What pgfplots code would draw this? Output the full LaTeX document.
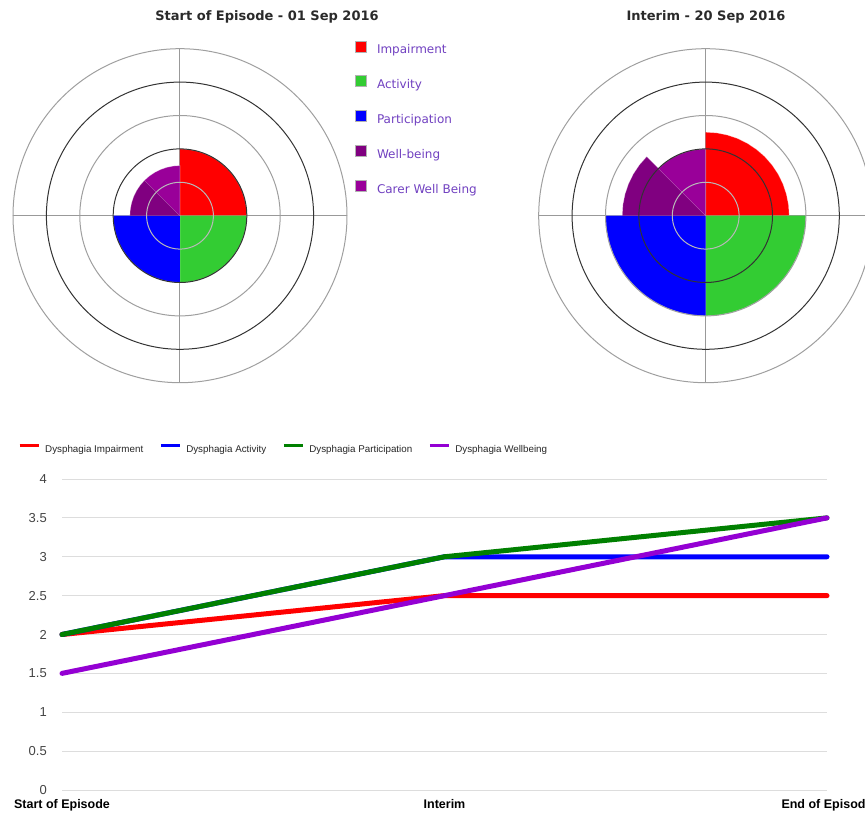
\documentclass[border=0pt]{standalone}
\usepackage{fontspec}
\usepackage{pgfplots}
\usepackage{pgfplotstable}
\pgfplotsset{compat=1.18}
\usepgfplotslibrary{polar}
\newfontfamily\dv{DejaVu Sans}
\newfontfamily\ls{Liberation Sans}
\definecolor{cRed}{HTML}{FF0000}
\definecolor{cGreen}{HTML}{33CC33}
\definecolor{cBlue}{HTML}{0000FF}
\definecolor{cWell}{HTML}{800080}
\definecolor{cCarer}{HTML}{990099}
\definecolor{legtext}{HTML}{7040C0}
\definecolor{titlec}{HTML}{2A2A2A}
\definecolor{lRed}{HTML}{FF0000}
\definecolor{lBlue}{HTML}{0000FF}
\definecolor{lGreen}{HTML}{008000}
\definecolor{lPurple}{HTML}{9400D3}
\definecolor{gridc}{HTML}{DDDDDD}
\definecolor{tickc}{HTML}{444444}

\pgfplotstableread{
x imp act par wel
0 2   2 2   1.5
1 2.5 3 3   2.5
2 2.5 3 3.5 3.5
}\linedata

\pgfplotsset{
  pbase/.style={
    scale only axis, width=334pt, height=334pt,
    xmin=0, xmax=360, ymin=0, ymax=5,
    xticklabels={}, yticklabels={},
    major tick length=0pt, minor tick length=0pt,
    axis line style={draw=none},
  },
  rings/.style={
    xtick=\empty, ytick={3,5}, ymajorgrids,
    grid style={draw=gray!75, line width=1pt},
    minor ytick={1}, yminorgrids,
    minor grid style={draw=gray!55, line width=1pt},
    extra y ticks={2,4}, extra y tick labels={},
    extra y tick style={grid style={draw=black!80, line width=1pt}},
  },
  sector/.style={fill=#1, draw=white, draw opacity=0.35, line width=0.6pt},
  pleg/.style={
    legend style={at={(axis description cs:1.024,1.025)}, anchor=north west,
      draw=none, fill=none, inner sep=0pt,
      row sep=18.5pt, column sep=10pt,
      nodes={inner sep=0pt, text height=9pt, text depth=3pt,
        font=\dv\fontsize{12}{12}\selectfont, text=legtext}},
    legend cell align=left,
    legend image code/.code={\draw[##1, draw=gray!60, draw opacity=1, line width=0.8pt] (0pt,-1pt) rectangle (11pt,10pt);},
  },
}

\begin{document}
\begin{tikzpicture}
\path[use as bounding box] (0pt,0pt) rectangle (865pt,812pt);

% ---------- Polar chart 1 ----------
\begin{polaraxis}[pbase, pleg, at={(180pt,596.3pt)}, anchor=origin,
  xtick={0,90,180,270}, ytick=\empty, xmajorgrids,
  grid style={draw=gray!80, line width=1pt}]
\addplot[sector=cRed] coordinates {(0,0) (0,2) (7.5,2) (15,2) (22.5,2) (30,2) (37.5,2) (45,2) (52.5,2) (60,2) (67.5,2) (75,2) (82.5,2) (90,2)};
\addlegendentry{Impairment}
\addplot[sector=cGreen] coordinates {(0,0) (270,2) (277.5,2) (285,2) (292.5,2) (300,2) (307.5,2) (315,2) (322.5,2) (330,2) (337.5,2) (345,2) (352.5,2) (360,2)};
\addlegendentry{Activity}
\addplot[sector=cBlue] coordinates {(0,0) (180,2) (187.5,2) (195,2) (202.5,2) (210,2) (217.5,2) (225,2) (232.5,2) (240,2) (247.5,2) (255,2) (262.5,2) (270,2)};
\addlegendentry{Participation}
\addplot[sector=cWell] coordinates {(0,0) (135,1.5) (142.5,1.5) (150,1.5) (157.5,1.5) (165,1.5) (172.5,1.5) (180,1.5)};
\addlegendentry{Well-being}
\addplot[sector=cCarer] coordinates {(0,0) (90,1.5) (97.5,1.5) (105,1.5) (112.5,1.5) (120,1.5) (127.5,1.5) (135,1.5)};
\addlegendentry{Carer Well Being}
\end{polaraxis}
\begin{polaraxis}[pbase, rings, at={(180pt,596.3pt)}, anchor=origin]
\end{polaraxis}

% ---------- Polar chart 2 ----------
\begin{polaraxis}[pbase, at={(705.7pt,596.3pt)}, anchor=origin,
  xtick={0,90,180,270}, ytick=\empty, xmajorgrids,
  grid style={draw=gray!80, line width=1pt}]
\addplot[sector=cRed] coordinates {(0,0) (0,2.5) (7.5,2.5) (15,2.5) (22.5,2.5) (30,2.5) (37.5,2.5) (45,2.5) (52.5,2.5) (60,2.5) (67.5,2.5) (75,2.5) (82.5,2.5) (90,2.5)};
\addplot[sector=cGreen] coordinates {(0,0) (270,3) (277.5,3) (285,3) (292.5,3) (300,3) (307.5,3) (315,3) (322.5,3) (330,3) (337.5,3) (345,3) (352.5,3) (360,3)};
\addplot[sector=cBlue] coordinates {(0,0) (180,3) (187.5,3) (195,3) (202.5,3) (210,3) (217.5,3) (225,3) (232.5,3) (240,3) (247.5,3) (255,3) (262.5,3) (270,3)};
\addplot[sector=cWell] coordinates {(0,0) (135,2.5) (142.5,2.5) (150,2.5) (157.5,2.5) (165,2.5) (172.5,2.5) (180,2.5)};
\addplot[sector=cCarer] coordinates {(0,0) (90,2) (97.5,2) (105,2) (112.5,2) (120,2) (127.5,2) (135,2)};
\end{polaraxis}
\begin{polaraxis}[pbase, rings, at={(705.7pt,596.3pt)}, anchor=origin]
\end{polaraxis}

\node[font=\dv\bfseries\fontsize{13}{13}\selectfont, text=titlec] at (267pt,795pt) {Start of Episode - 01 Sep 2016};
\node[font=\dv\bfseries\fontsize{13}{13}\selectfont, text=titlec] at (706pt,795pt) {Interim - 20 Sep 2016};

% ---------- Line chart ----------
\begin{axis}[at={(62pt,22pt)}, anchor=south west, scale only axis,
  width=765pt, height=311pt,
  xmin=0, xmax=2, ymin=0, ymax=4, clip=false,
  xtick={0,1,2}, xticklabels={Start of Episode,Interim,End of Episode},
  ytick={0,0.5,1,1.5,2,2.5,3,3.5,4},
  ymajorgrids, grid style={draw=gridc, line width=1pt},
  axis line style={draw=none}, major tick length=0pt,
  /pgf/number format/assume math mode=true,
  yticklabel style={font=\ls\fontsize{13}{13}\selectfont, text=tickc, inner sep=0pt, xshift=-15pt},
  xticklabel style={font=\ls\bfseries\fontsize{12.5}{12.5}\selectfont, text=black, inner sep=0pt, anchor=north, yshift=-9pt},
  legend columns=4,
  legend style={at={(axis description cs:-0.0575,1.0966)}, anchor=west,
    draw=none, fill=none, inner sep=0pt,
    nodes={inner sep=0pt, font=\ls\fontsize{9.8}{10}\selectfont, text=black!85},
    /tikz/every odd column/.append style={column sep=5pt},
    /tikz/every even column/.append style={column sep=16pt}},
  legend image code/.code={\draw[#1, line width=3pt, line cap=butt] (0pt,3.6pt) -- (19pt,3.6pt);},
]
\addplot[lRed, line width=5pt, line cap=round, line join=round] table[x=x, y=imp] {\linedata};
\addlegendentry{Dysphagia Impairment}
\addplot[lBlue, line width=5pt, line cap=round, line join=round] table[x=x, y=act] {\linedata};
\addlegendentry{Dysphagia Activity}
\addplot[lGreen, line width=5pt, line cap=round, line join=round] table[x=x, y=par] {\linedata};
\addlegendentry{Dysphagia Participation}
\addplot[lPurple, line width=5pt, line cap=round, line join=round] table[x=x, y=wel] {\linedata};
\addlegendentry{Dysphagia Wellbeing}
\end{axis}
\end{tikzpicture}
\end{document}
